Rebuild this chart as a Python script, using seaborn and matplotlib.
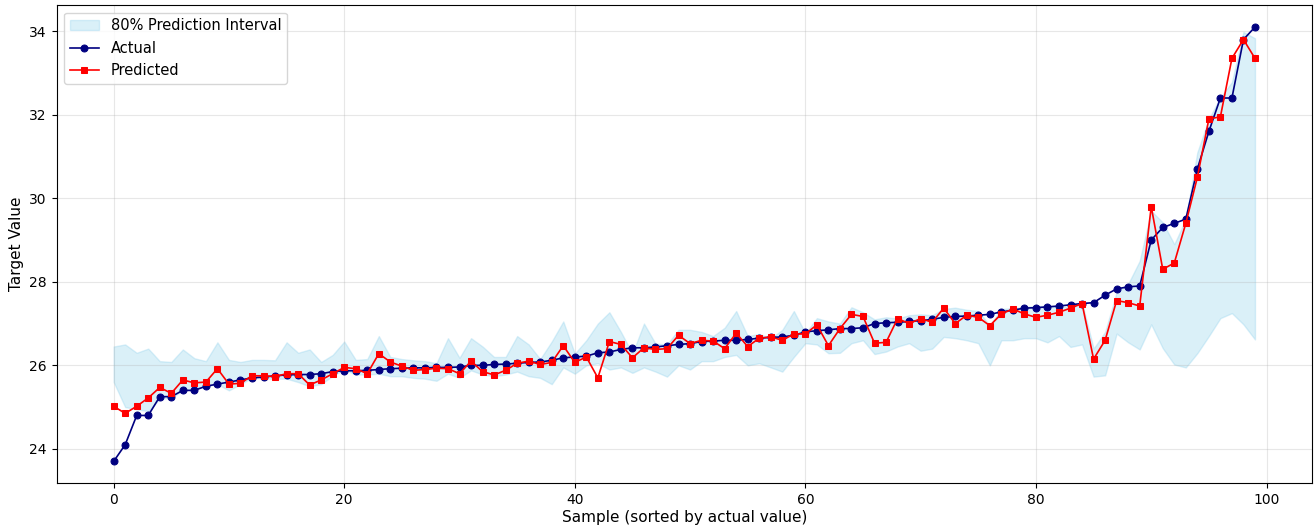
import matplotlib
matplotlib.use("Agg")
import matplotlib.pyplot as plt
import numpy as np
import pandas as pd
import seaborn as sns

actual = [
    23.7, 24.1, 24.8, 24.8, 25.25, 25.25, 25.4, 25.4, 25.5, 25.55,
    25.6, 25.65, 25.7, 25.72, 25.75, 25.77, 25.78, 25.78, 25.8, 25.85,
    25.87, 25.87, 25.88, 25.9, 25.92, 25.93, 25.94, 25.94, 25.95, 25.95,
    25.96, 26.0, 26.0, 26.02, 26.03, 26.05, 26.07, 26.08, 26.12, 26.18,
    26.2, 26.22, 26.3, 26.32, 26.38, 26.42, 26.42, 26.44, 26.47, 26.5,
    26.52, 26.57, 26.58, 26.6, 26.6, 26.62, 26.65, 26.67, 26.68, 26.72,
    26.8, 26.83, 26.85, 26.88, 26.88, 26.9, 27.0, 27.02, 27.03, 27.05,
    27.07, 27.1, 27.15, 27.17, 27.18, 27.2, 27.22, 27.28, 27.32, 27.37,
    27.38, 27.4, 27.42, 27.45, 27.48, 27.5, 27.68, 27.83, 27.88, 27.9,
    29.0, 29.3, 29.4, 29.5, 30.7, 31.6, 32.4, 32.4, 33.8, 34.1,
]

predicted = [
    25.02, 24.85, 25.02, 25.22, 25.47, 25.33, 25.65, 25.58, 25.6, 25.92,
    25.55, 25.57, 25.75, 25.75, 25.73, 25.8, 25.8, 25.53, 25.65, 25.8,
    25.95, 25.92, 25.8, 26.28, 26.08, 25.98, 25.88, 25.9, 25.93, 25.92,
    25.8, 26.1, 25.85, 25.77, 25.88, 26.05, 26.1, 26.02, 26.07, 26.47,
    26.07, 26.2, 25.7, 26.57, 26.5, 26.18, 26.42, 26.38, 26.4, 26.72,
    26.52, 26.6, 26.58, 26.4, 26.77, 26.45, 26.65, 26.68, 26.6, 26.75,
    26.75, 26.97, 26.47, 26.88, 27.22, 27.17, 26.53, 26.55, 27.12, 27.0,
    27.12, 27.03, 27.37, 27.0, 27.2, 27.15, 26.95, 27.23, 27.35, 27.23,
    27.15, 27.2, 27.27, 27.37, 27.48, 26.15, 26.6, 27.55, 27.5, 27.42,
    29.8, 28.3, 28.45, 29.4, 30.5, 31.9, 31.95, 33.35, 33.8, 33.35,
]

upper = [
    26.45, 26.5, 26.3, 26.4, 26.1, 26.08, 26.38, 26.17, 26.1, 26.55,
    26.13, 26.08, 26.13, 26.13, 26.12, 26.55, 26.3, 26.38, 26.08, 26.25,
    26.57, 26.13, 26.15, 26.7, 26.2, 26.15, 26.12, 26.1, 26.05, 26.65,
    26.18, 26.65, 26.45, 26.2, 26.2, 26.7, 26.5, 26.15, 26.57, 27.05,
    26.28, 26.6, 27.0, 27.27, 26.8, 26.28, 27.0, 26.52, 26.5, 26.85,
    26.85, 26.8, 26.7, 26.9, 27.3, 26.7, 26.75, 26.65, 26.85, 27.3,
    26.77, 27.13, 27.05, 27.0, 27.39, 27.27, 27.1, 27.15, 27.12, 27.2,
    27.22, 27.2, 27.35, 27.38, 27.33, 27.3, 26.95, 27.35, 27.37, 27.4,
    27.42, 27.42, 27.4, 27.4, 27.5, 26.4, 26.8, 27.75, 27.95, 28.5,
    29.7, 29.42, 28.9, 29.5, 31.1, 31.9, 32.42, 32.78, 33.98, 33.83,
]

lower = [
    25.6, 25.0, 24.95, 24.9, 25.2, 25.22, 25.4, 25.45, 25.5, 25.55,
    25.4, 25.55, 25.7, 25.68, 25.68, 25.68, 25.6, 25.5, 25.55, 25.75,
    25.9, 25.78, 25.78, 25.8, 25.74, 25.74, 25.7, 25.68, 25.63, 25.8,
    25.7, 25.88, 25.78, 25.74, 25.78, 25.85, 25.74, 25.7, 25.55, 25.95,
    25.8, 26.0, 26.05, 25.9, 25.95, 25.82, 25.95, 25.85, 25.73, 26.0,
    25.9, 26.1, 26.1, 26.2, 26.25, 26.0, 26.05, 25.95, 25.85, 26.2,
    26.53, 26.5, 26.29, 26.3, 26.53, 26.6, 26.27, 26.33, 26.45, 26.53,
    26.35, 26.4, 26.68, 26.65, 26.6, 26.53, 26.0, 26.6, 26.6, 26.65,
    26.65, 26.55, 26.7, 26.44, 26.5, 25.73, 25.76, 26.76, 26.55, 26.38,
    26.98, 26.41, 26.02, 25.95, 26.29, 26.7, 27.13, 27.25, 26.98, 26.62,
]

sample = np.arange(len(actual))

df = pd.DataFrame({
    "sample": sample,
    "actual": actual,
    "predicted": predicted,
    "lower": lower,
    "upper": upper,
})

fig, ax = plt.subplots(figsize=(13.16, 5.28), dpi=100)

ax.fill_between(df["sample"], df["lower"], df["upper"], color="skyblue",
                alpha=0.3, label="80% Prediction Interval")
sns.lineplot(data=df, x="sample", y="actual", ax=ax, color="navy",
             marker="o", markersize=5, markeredgecolor="navy", linewidth=1.2,
             label="Actual")
sns.lineplot(data=df, x="sample", y="predicted", ax=ax, color="red",
             marker="s", markersize=5, markeredgecolor="red", linewidth=1.2,
             label="Predicted")

ax.set_xlabel("Sample (sorted by actual value)", fontsize=11, labelpad=2)
ax.set_ylabel("Target Value", fontsize=11)
ax.tick_params(labelsize=10)
ax.grid(True, alpha=0.3)
ax.legend(loc="upper left", fontsize=10.5)

fig.subplots_adjust(left=0.043, right=0.997, top=0.99, bottom=0.085)
fig.savefig("out.png", dpi=100)
